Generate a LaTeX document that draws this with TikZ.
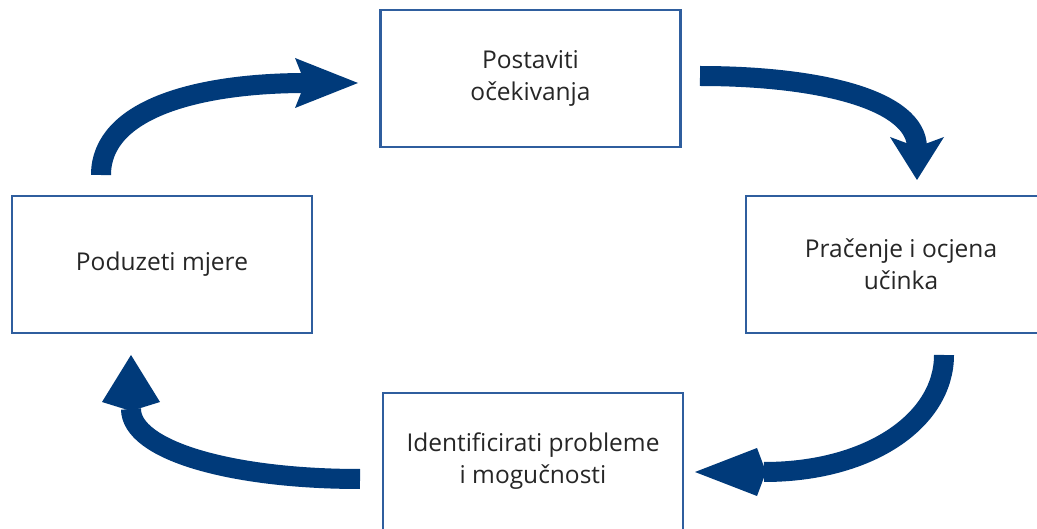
\documentclass[tikz,border=0pt]{standalone}
\usepackage{fontspec}
\setmainfont{Open Sans}
\definecolor{boxblue}{HTML}{2F5E9E}
\definecolor{arrowblue}{HTML}{003A7A}
\definecolor{txt}{HTML}{262626}
\begin{document}
\begin{tikzpicture}[x=1pt,y=-1pt,
  box/.style={draw=boxblue, line width=2.5pt, fill=white, minimum width=300pt, minimum height=137pt,
    align=center, text=txt, font=\fontsize{24.5}{32}\selectfont, inner sep=0pt},
  shaft/.style={draw=arrowblue, line width=20pt, line cap=butt},
  head/.style={fill=arrowblue}]
\useasboundingbox (0,0) rectangle (1037,529);
\clip (0,0) rectangle (1037,529);
\fill[white] (0,0) rectangle (1037,529);

\node[box] (set) at (530.5,78.5) {Postaviti\\očekivanja};
\node[box, minimum width=310pt] (mon) at (901,264.5) {Pračenje i ocjena\\učinka};
\node[box] (idf) at (533,461.5) {Identificirati probleme\\i mogučnosti};
\node[box] (act) at (162,264.5) {Poduzeti mjere};

% arrow: act -> set
\coordinate (a1s) at (101,175);
\coordinate (a1e) at (306,83);
\draw[shaft] (a1s) .. controls (101,108) and (200,83) .. (a1e);
\fill[head] (295,58) -- (358,83) -- (295,108) -- (305,83) -- cycle;

% arrow: set -> mon
\coordinate (a2s) at (700,76);
\coordinate (a2e) at (917,148);
\draw[shaft] (a2s) .. controls (820,76) and (917,100) .. (a2e);
\fill[head] (890,137) -- (917,180) -- (944,137) -- (917,147) -- cycle;

% arrow: mon -> idf
\coordinate (a3s) at (944,355);
\coordinate (a3e) at (764,472);
\draw[shaft] (a3s) .. controls (944,420) and (870,472) .. (a3e);
\fill[head] (757,448) -- (695,472) -- (757,496) -- (766,472) -- cycle;

% arrow: idf -> act
\coordinate (a4s) at (360,479);
\coordinate (a4e) at (131,409);
\draw[shaft] (a4s) .. controls (230,479) and (131,450) .. (a4e);
\fill[head] (102,402) -- (131,355) -- (160,402) -- (131,411) -- cycle;
\end{tikzpicture}
\end{document}
